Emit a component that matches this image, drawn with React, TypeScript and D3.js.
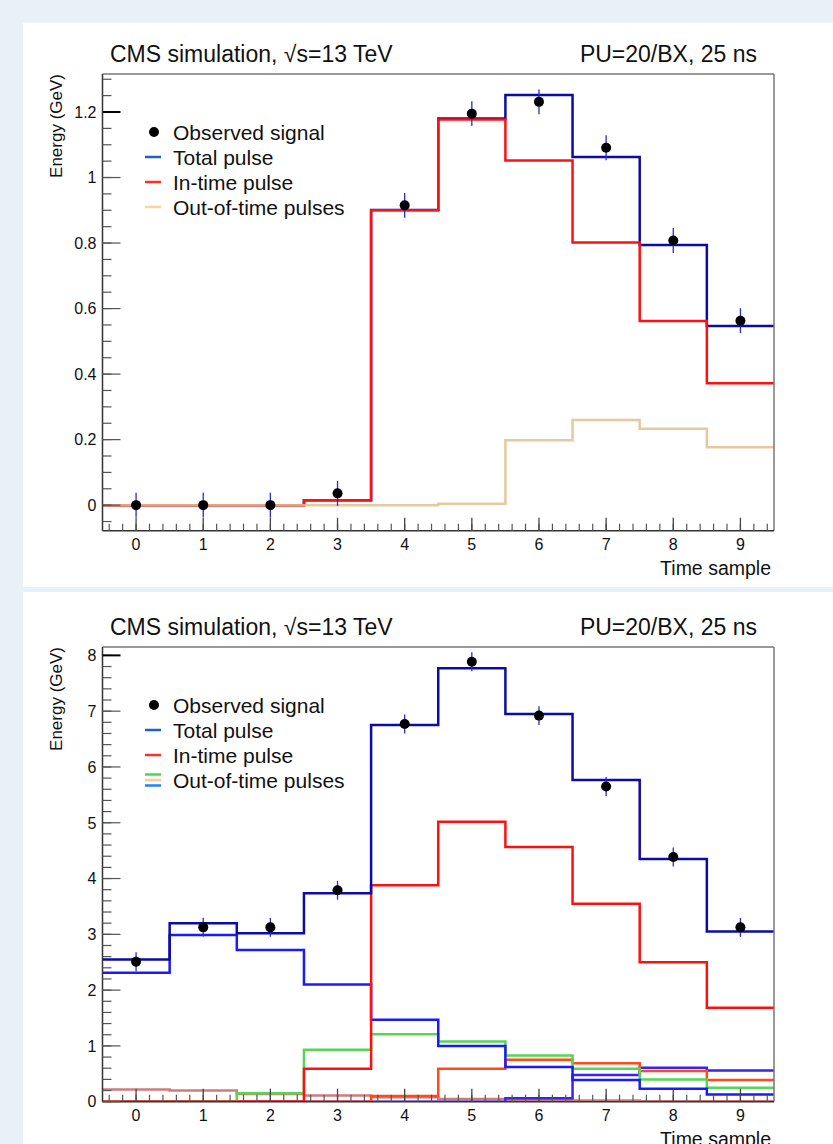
import React from "react";
import * as d3 from "d3";

// time samples (bins)
const samples = [0, 1, 2, 3, 4, 5, 6, 7, 8, 9];

// top plot: low-energy pulse
const topObserved = [0, 0, 0, 0.036, 0.915, 1.195, 1.231, 1.091, 0.808, 0.563];
const topErrors = [0.038, 0.038, 0.038, 0.038, 0.038, 0.038, 0.038, 0.038, 0.038, 0.038];
const topTotal = [0, 0, 0, 0.015, 0.901, 1.18, 1.252, 1.063, 0.794, 0.547];
const topInTime = [0, 0, 0, 0.015, 0.9, 1.177, 1.052, 0.802, 0.562, 0.372];
const topOutOfTime = [0, 0, 0, 0, 0, 0.004, 0.198, 0.26, 0.233, 0.177];

// bottom plot: higher-energy pulse with several out-of-time pulses
const botObserved = [2.51, 3.125, 3.125, 3.79, 6.77, 7.885, 6.92, 5.65, 4.385, 3.125];
const botErrors = [0.17, 0.17, 0.17, 0.17, 0.17, 0.17, 0.17, 0.17, 0.17, 0.17];
const botTotal = [2.55, 3.2, 3.02, 3.735, 6.75, 7.77, 6.95, 5.765, 4.35, 3.05];
const botInTime = [0, 0, 0, 0.59, 3.88, 5.02, 4.565, 3.55, 2.5, 1.685];
const botOotBlue = [2.31, 2.99, 2.72, 2.1, 1.47, 1.0, 0.62, 0.39, 0.23, 0.13];
const botOotGreen = [0, 0, 0.15, 0.93, 1.21, 1.08, 0.83, 0.59, 0.4, 0.25];
const botOotOrange = [0, 0, 0, 0, 0.1, 0.59, 0.75, 0.69, 0.55, 0.39];
const botOotViolet = [0, 0, 0, 0, 0, 0, 0.06, 0.48, 0.61, 0.56];
const botOotBrown = [0.22, 0.2, 0.14, 0.11, 0.08, 0.05, 0.03, 0.02, 0.01, 0.01];
const botOotTan = [0, 0, 0, 0, 0, 0, 0, 0, 0, 0];

// axis ticks
const topYTicks = [0, 0.2, 0.4, 0.6, 0.8, 1, 1.2];
const botYTicks = [0, 1, 2, 3, 4, 5, 6, 7, 8];
const xTicks = samples;

const legendLabels = ["Observed signal", "Total pulse", "In-time pulse", "Out-of-time pulses"];

const FONT = "'Liberation Sans', Arial, Helvetica, sans-serif";
const W = 833;
const H = 1144;

const x = d3.scaleLinear().domain([-0.5, 9.5]).range([102.5, 774]);

const stepPoints = (vals: number[]) =>
  vals.flatMap((v, i) => [[samples[i] - 0.5, v], [samples[i] + 0.5, v]] as [number, number][]);

type Series = { values: number[]; color: string; width?: number; opacity?: number };

const Panel = ({
  id, y0, y1, domain, majors, minorStep, series, observed, errors, ootColors,
}: {
  id: string; y0: number; y1: number; domain: [number, number]; majors: number[];
  minorStep: number; series: Series[]; observed: number[]; errors: number[]; ootColors: string[];
}) => {
  const y = d3.scaleLinear().domain(domain).range([y1, y0]);
  const line = d3.line<[number, number]>().x(d => x(d[0])).y(d => y(d[1]));
  const xl = x.range()[0], xr = x.range()[1];

  const yMinor = d3.range(Math.ceil(domain[0] / minorStep), Math.floor(domain[1] / minorStep) + 1)
    .map(k => k * minorStep);
  const xMinor = d3.range(-2, 48).map(k => k * 0.2);
  const fmt = d3.format("~g");
  const topTick = majors[majors.length - 1];
  const legY = y0 + 58;

  return (
    <g>
      <defs>
        <clipPath id={id}>
          <rect x={xl} y={y0} width={xr - xl} height={y1 - y0} />
        </clipPath>
      </defs>
      {/* titles */}
      <text x={110} y={y0 - 12.5} fontSize={23} fontFamily={FONT} fill="#111">
        CMS simulation, {"\u221A"}s=13 TeV
      </text>
      <text x={757} y={y0 - 12.5} fontSize={23} fontFamily={FONT} fill="#111" textAnchor="end">
        PU=20/BX, 25 ns
      </text>

      {/* histograms */}
      <g clipPath={`url(#${id})`}>
        {series.map((s, i) => (
          <path key={i} d={line(stepPoints(s.values)) || ""} fill="none" stroke={s.color}
            strokeWidth={s.width ?? 2.5} strokeOpacity={s.opacity ?? 1} />
        ))}
        {observed.map((v, i) => (
          <g key={i}>
            <line x1={x(samples[i])} x2={x(samples[i])} y1={y(v - errors[i])} y2={y(v + errors[i])}
              stroke="#2b2bd6" strokeWidth={1.3} />
            <circle cx={x(samples[i])} cy={y(v)} r={5} fill="#000" />
          </g>
        ))}
      </g>

      {/* frame */}
      <line x1={xl} x2={xr} y1={y0} y2={y0} stroke="#777" strokeWidth={1.5} />
      <line x1={xr} x2={xr} y1={y0} y2={y1} stroke="#777" strokeWidth={1.5} />
      <line x1={xl} x2={xl} y1={y0} y2={y1} stroke="#333" strokeWidth={1.5} />
      <line x1={xl} x2={xr} y1={y1} y2={y1} stroke="#333" strokeWidth={1.5} />

      {/* y ticks */}
      {yMinor.map((t, i) => (
        <line key={"ym" + i} x1={xl} x2={xl + 9} y1={y(t)} y2={y(t)} stroke="#555" strokeWidth={1.2} />
      ))}
      {majors.map((t, i) => (
        <g key={"yM" + i}>
          <line x1={xl} x2={xl + 18} y1={y(t)} y2={y(t)} stroke={t === topTick ? "#000" : "#555"}
            strokeWidth={t === topTick ? 2 : 1.2} />
          <text x={xl - 6} y={y(t)} dy="0.36em" textAnchor="end" fontSize={16} fontFamily={FONT} fill="#111">
            {fmt(t)}
          </text>
        </g>
      ))}
      <text transform={`translate(${62},${y0}) rotate(-90)`} textAnchor="end" fontSize={17}
        fontFamily={FONT} fill="#111">
        Energy (GeV)
      </text>

      {/* x ticks */}
      {xMinor.filter(t => t > -0.5 && t < 9.5).map((t, i) => (
        <line key={"xm" + i} x1={x(t)} x2={x(t)} y1={y1} y2={y1 - 7} stroke="#555" strokeWidth={1.2} />
      ))}
      {xTicks.map((t, i) => (
        <g key={"xM" + i}>
          <line x1={x(t)} x2={x(t)} y1={y1} y2={y1 - 13} stroke="#444" strokeWidth={1.3} />
          <text x={x(t)} y={y1 + 19} textAnchor="middle" fontSize={16} fontFamily={FONT} fill="#111">
            {t}
          </text>
        </g>
      ))}
      <text x={771} y={y1 + 44} textAnchor="end" fontSize={19.5} fontFamily={FONT} fill="#111">
        Time sample
      </text>

      {/* legend */}
      <circle cx={154} cy={legY} r={5} fill="#000" />
      <line x1={145} x2={161} y1={legY + 25} y2={legY + 25} stroke="#1f5fd0" strokeWidth={2.5} />
      <line x1={145} x2={161} y1={legY + 50} y2={legY + 50} stroke="#ff3020" strokeWidth={2.5} />
      {ootColors.map((c, i) => (
        <line key={"lo" + i} x1={145} x2={161}
          y1={legY + 75 + (i - (ootColors.length - 1) / 2) * 5.5}
          y2={legY + 75 + (i - (ootColors.length - 1) / 2) * 5.5}
          stroke={c} strokeWidth={2.5} />
      ))}
      {legendLabels.map((l, i) => (
        <text key={"lt" + i} x={173} y={legY + i * 25} dy="0.36em" fontSize={21} fontFamily={FONT} fill="#111">
          {l}
        </text>
      ))}
    </g>
  );
};

export default function App() {
  return (
    <div style={{ position: "absolute", left: 0, top: 0 }}>
      <svg width={W} height={H} style={{ display: "block" }}>
        <rect x={0} y={0} width={W} height={H} fill="#e8f0f8" />
        <rect x={23} y={22.7} width={W - 23} height={587 - 22.7} fill="#fff" />
        <rect x={23} y={592} width={W - 23} height={H - 592} fill="#fff" />
        <Panel
          id="clipTop" y0={74} y1={530.7} domain={[-0.078, 1.316]} majors={topYTicks} minorStep={0.05}
          series={[
            { values: topTotal, color: "#0b0ba6" },
            { values: topInTime, color: "#ff1010" },
            { values: topOutOfTime, color: "#e3c08c", opacity: 0.85 },
          ]}
          observed={topObserved} errors={topErrors} ootColors={["#ffd0a0"]}
        />
        <Panel
          id="clipBot" y0={647} y1={1101.7} domain={[0, 8.15]} majors={botYTicks} minorStep={0.2}
          series={[
            { values: botOotTan, color: "#e3c08c" },
            { values: botOotBrown, color: "#c86464", opacity: 0.85 },
            { values: botOotViolet, color: "#3a22f0" },
            { values: botOotOrange, color: "#ff4a1a" },
            { values: botOotGreen, color: "#55d655" },
            { values: botOotBlue, color: "#1a1aff" },
            { values: botInTime, color: "#ff1010" },
            { values: botTotal, color: "#0b0ba6" },
          ]}
          observed={botObserved} errors={botErrors} ootColors={["#44dd44", "#ffcc99", "#2080ff"]}
        />
      </svg>
    </div>
  );
}
